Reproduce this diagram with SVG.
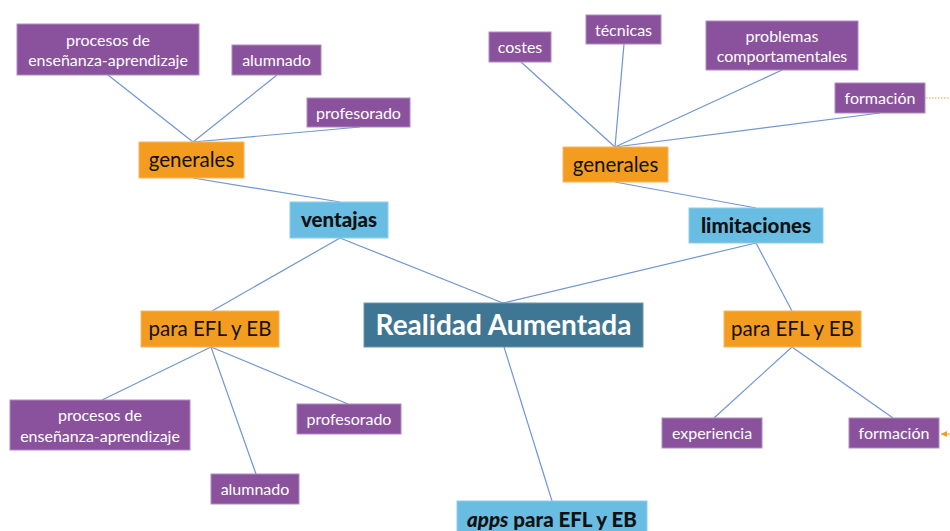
<svg xmlns="http://www.w3.org/2000/svg" width="950" height="531" viewBox="0 0 950 531">
<defs>
<style>
.p{fill:#8A529C;stroke:#B08BC0;stroke-width:1}
.o{fill:#F49C1F;stroke:#F6B860;stroke-width:1}
.b{fill:#6ABDE2;stroke:#8FCDEA;stroke-width:1}
.d{fill:#3F7694;stroke:#6A97AE;stroke-width:1}
.tp{font-family:Lato,"Open Sans","Liberation Sans",sans-serif;font-size:16px;fill:#fff;text-anchor:middle}
.to{font-family:Lato,"Open Sans","Liberation Sans",sans-serif;font-size:20.5px;fill:#111;text-anchor:middle}
.tb{font-family:Lato,"Open Sans","Liberation Sans",sans-serif;font-size:20.5px;font-weight:900;fill:#111;text-anchor:middle}
.td{font-family:Lato,"Open Sans","Liberation Sans",sans-serif;font-size:28px;font-weight:bold;fill:#fff;text-anchor:middle}
.c{stroke:#7096D2;stroke-width:1.2;fill:none}
</style>
<marker id="ah" markerWidth="8" markerHeight="8" refX="6" refY="3.5" orient="auto" markerUnits="userSpaceOnUse">
<path d="M0,0.5 L6,3.5 L0,6.5 Z" fill="#F49C1F"/>
</marker>
</defs>
<rect width="950" height="531" fill="#fff"/>
<g id="connectors">
<line class="c" x1="108" y1="75" x2="193" y2="142"/>
<line class="c" x1="277" y1="75" x2="193" y2="142"/>
<line class="c" x1="360" y1="127" x2="193" y2="142"/>
<line class="c" x1="193" y1="178" x2="340" y2="202"/>
<line class="c" x1="340" y1="238" x2="212" y2="311"/>
<line class="c" x1="340" y1="238" x2="503" y2="303"/>
<line class="c" x1="521" y1="62" x2="615" y2="147"/>
<line class="c" x1="624" y1="44" x2="615" y2="147"/>
<line class="c" x1="782" y1="70" x2="615" y2="147"/>
<line class="c" x1="880" y1="113" x2="615" y2="147"/>
<line class="c" x1="615" y1="182" x2="756" y2="208"/>
<line class="c" x1="756" y1="243" x2="503" y2="303"/>
<line class="c" x1="756" y1="243" x2="792" y2="311"/>
<line class="c" x1="211" y1="347" x2="102" y2="400"/>
<line class="c" x1="211" y1="347" x2="256" y2="474"/>
<line class="c" x1="211" y1="347" x2="348" y2="404"/>
<line class="c" x1="504" y1="347" x2="552" y2="501"/>
<line class="c" x1="792" y1="347" x2="714" y2="418"/>
<line class="c" x1="792" y1="347" x2="893" y2="418"/>
<line x1="926" y1="98" x2="950" y2="98" stroke="#F49C1F" stroke-width="1" stroke-dasharray="1.5,1.5"/>
<line x1="950" y1="434" x2="941" y2="434" stroke="#F49C1F" stroke-width="1" marker-end="url(#ah)"/>
</g>
<g id="n-procesos-top"><rect class="p" x="17" y="24" width="182" height="51"/><text class="tp" x="108" y="46">procesos de</text><text class="tp" x="108" y="66">enseñanza-aprendizaje</text></g>
<g id="n-alumnado-top"><rect class="p" x="232" y="45" width="89" height="30"/><text class="tp" x="276.5" y="66">alumnado</text></g>
<g id="n-profesorado-top"><rect class="p" x="307" y="98" width="103" height="29"/><text class="tp" x="358.5" y="119">profesorado</text></g>
<g id="n-generales-left"><rect class="o" x="139" y="142" width="105" height="36"/><text class="to" x="191.5" y="167">generales</text></g>
<g id="n-ventajas"><rect class="b" x="290" y="202" width="98" height="36"/><text class="tb" x="339" y="227">ventajas</text></g>
<g id="n-costes"><rect class="p" x="489" y="32" width="62" height="30"/><text class="tp" x="520" y="53">costes</text></g>
<g id="n-tecnicas"><rect class="p" x="586" y="15" width="75" height="29"/><text class="tp" x="623.5" y="36">técnicas</text></g>
<g id="n-problemas"><rect class="p" x="706" y="21" width="152" height="49"/><text class="tp" x="782" y="42">problemas</text><text class="tp" x="782" y="62">comportamentales</text></g>
<g id="n-formacion-top"><rect class="p" x="835" y="83" width="90" height="30"/><text class="tp" x="880" y="104">formación</text></g>
<g id="n-generales-right"><rect class="o" x="563" y="147" width="105" height="35"/><text class="to" x="615.5" y="172">generales</text></g>
<g id="n-limitaciones"><rect class="b" x="689" y="208" width="134" height="35"/><text class="tb" x="756" y="233">limitaciones</text></g>
<g id="n-para-left"><rect class="o" x="141" y="311" width="138" height="36"/><text class="to" x="210" y="336">para EFL y EB</text></g>
<g id="n-ra"><rect class="d" x="364" y="303" width="279" height="44"/><text class="td" x="503.5" y="335">Realidad Aumentada</text></g>
<g id="n-para-right"><rect class="o" x="724" y="311" width="137" height="36"/><text class="to" x="792.5" y="336">para EFL y EB</text></g>
<g id="n-procesos-bottom"><rect class="p" x="10" y="400" width="180" height="50"/><text class="tp" x="100" y="421">procesos de</text><text class="tp" x="100" y="442">enseñanza-aprendizaje</text></g>
<g id="n-profesorado-bottom"><rect class="p" x="297" y="404" width="104" height="30"/><text class="tp" x="349" y="425">profesorado</text></g>
<g id="n-alumnado-bottom"><rect class="p" x="211" y="474" width="88" height="30"/><text class="tp" x="255" y="495">alumnado</text></g>
<g id="n-experiencia"><rect class="p" x="662" y="418" width="100" height="30"/><text class="tp" x="712" y="439">experiencia</text></g>
<g id="n-formacion-bottom"><rect class="p" x="849" y="418" width="90" height="30"/><text class="tp" x="894" y="439">formación</text></g>
<g id="n-apps"><rect class="b" x="457" y="501" width="190" height="40"/><text class="tb" x="552" y="527"><tspan font-style="italic">apps</tspan> para EFL y EB</text></g>
</svg>
